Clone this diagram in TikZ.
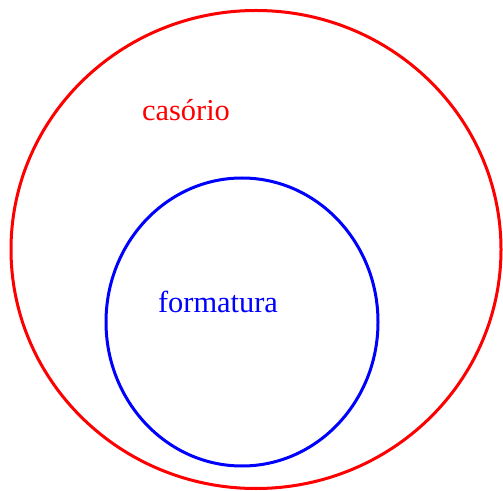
\documentclass[tikz,border=0pt]{standalone}
\usepackage{fontspec}
\setmainfont{Liberation Serif}
\usepackage{xcolor}

\tikzset{
  conjunto/.style={line width=2.25pt},
  rotulo/.style={anchor=base, inner sep=0pt, font=\fontsize{22.8}{27}\selectfont}
}

\begin{document}
\begin{tikzpicture}[x=0.75pt, y=-0.75pt]
  \useasboundingbox (0,0) rectangle (503,491);
  \draw[conjunto, red] (256,249.5) ellipse [x radius=245, y radius=239];
  \draw[conjunto, blue] (242,322) ellipse [x radius=136, y radius=144];
  \node[rotulo, text=red] (casorio) at (186,121) {casório};
  \node[rotulo, text=blue] (formatura) at (218,313) {formatura};
\end{tikzpicture}
\end{document}
